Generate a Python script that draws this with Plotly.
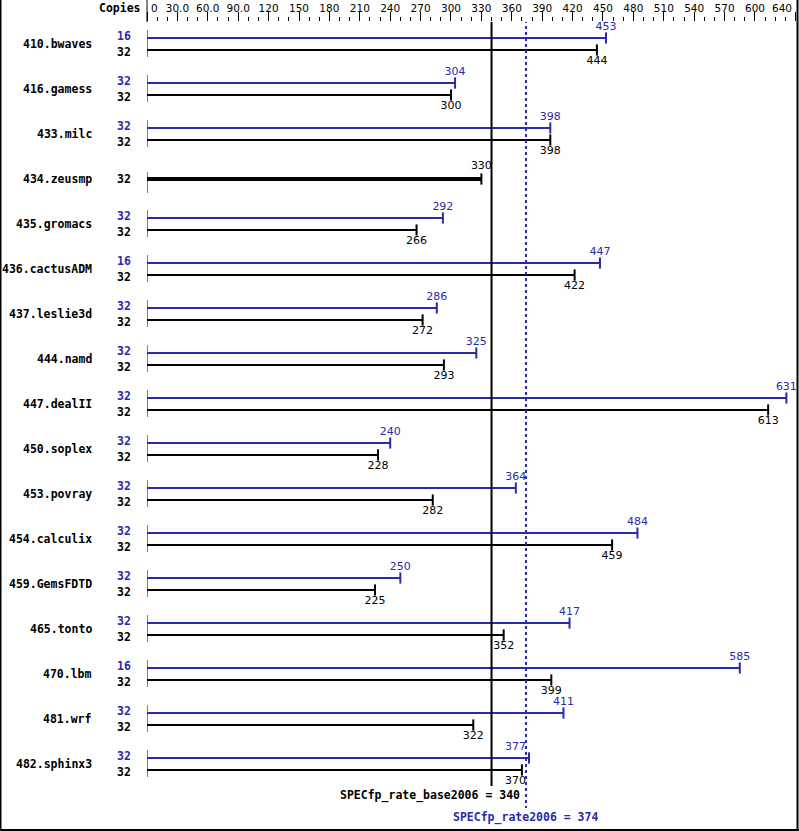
import plotly.graph_objects as go

# ---------------- data ----------------
benchmarks = ["410.bwaves", "416.gamess", "433.milc", "434.zeusmp", "435.gromacs",
              "436.cactusADM", "437.leslie3d", "444.namd", "447.dealII", "450.soplex",
              "453.povray", "454.calculix", "459.GemsFDTD", "465.tonto", "470.lbm",
              "481.wrf", "482.sphinx3"]
base_copies = [32, 32, 32, 32, 32, 32, 32, 32, 32, 32, 32, 32, 32, 32, 32, 32, 32]
peak_copies = [16, 32, 32, None, 32, 16, 32, 32, 32, 32, 32, 32, 32, 32, 16, 32, 32]
base_ratio = [444, 300, 398, 330, 266, 422, 272, 293, 613, 228, 282, 459, 225, 352, 399, 322, 370]
peak_ratio = [453, 304, 398, None, 292, 447, 286, 325, 631, 240, 364, 484, 250, 417, 585, 411, 377]
base_mean = 340
peak_mean = 374
base_mean_label = "SPECfp_rate_base2006 = 340"
peak_mean_label = "SPECfp_rate2006 = 374"
tick_vals = [0, 30, 60, 90, 120, 150, 180, 210, 240, 270, 300, 330, 360, 390, 420,
             450, 480, 510, 540, 570, 600, 640]
tick_text = ["0", "30.0", "60.0", "90.0", "120", "150", "180", "210", "240", "270", "300",
             "330", "360", "390", "420", "450", "480", "510", "540", "570", "600", "640"]

# ---------------- layout constants ----------------
W, H = 799, 831
ML, MR, MT, MB = 147, 2, 22, 2
PW = W - ML - MR
PH = H - MT - MB
PX_PER_UNIT = 1.0133
XMAX = PW / PX_PER_UNIT
ROW0, ROW_STEP, OFF = 44, 45, 6
BLUE = "#2a2aaa"
BLACK = "#000000"
MONO = "DejaVu Sans Mono"
SANS = "DejaVu Sans"


def py(p):  # pixel y -> paper y
    return 1 - (p - MT) / PH


def px(p):  # pixel x -> paper x
    return (p - ML) / PW


def label_place(v):
    # labels that would sit on the dotted peak-mean line are pushed to its left
    if abs(v - peak_mean) < 10:
        return peak_mean, "middle left"
    return v, "middle center"


fig = go.Figure()

pk_x, pk_y, bs_x, bs_y, single_x, single_y = [], [], [], [], [], []
start_x, start_y = [], []
pk_cap_x, pk_cap_y, bs_cap_x, bs_cap_y = [], [], [], []
pk_lab_x, pk_lab_y, pk_lab_t, pk_lab_p = [], [], [], []
bs_lab_x, bs_lab_y, bs_lab_t, bs_lab_p = [], [], [], []
annotations = []

for i, name in enumerate(benchmarks):
    c = ROW0 + ROW_STEP * i
    annotations.append(dict(x=0, y=c, xref="x", yref="y", text="<b>%s</b>" % name,
                            xanchor="right", yanchor="middle", xshift=-53, showarrow=False,
                            font=dict(family=MONO, size=11.5, color=BLACK)))
    if peak_ratio[i] is not None:
        yp, yb = c - OFF, c + OFF
        pk_x += [0, peak_ratio[i], None]
        pk_y += [yp, yp, None]
        bs_x += [0, base_ratio[i], None]
        bs_y += [yb, yb, None]
        pk_cap_x.append(peak_ratio[i]); pk_cap_y.append(yp)
        bs_cap_x.append(base_ratio[i]); bs_cap_y.append(yb)
        lx, lp = label_place(peak_ratio[i])
        pk_lab_x.append(lx); pk_lab_y.append(yp - 11); pk_lab_t.append(str(peak_ratio[i])); pk_lab_p.append(lp)
        lx, lp = label_place(base_ratio[i])
        bs_lab_x.append(lx); bs_lab_y.append(yb + 11); bs_lab_t.append(str(base_ratio[i])); bs_lab_p.append(lp)
        start_x += [0, 0, None]
        start_y += [c - 14, c + 13, None]
        annotations.append(dict(x=0, y=yp - 2, xref="x", yref="y", text="<b>%d</b>" % peak_copies[i],
                                xanchor="right", yanchor="middle", xshift=-14, showarrow=False,
                                font=dict(family=MONO, size=11.5, color=BLUE)))
        annotations.append(dict(x=0, y=yb + 2, xref="x", yref="y", text="<b>%d</b>" % base_copies[i],
                                xanchor="right", yanchor="middle", xshift=-14, showarrow=False,
                                font=dict(family=MONO, size=11.5, color=BLACK)))
    else:
        single_x += [0, base_ratio[i], None]
        single_y += [c, c, None]
        bs_cap_x.append(base_ratio[i]); bs_cap_y.append(c)
        lx, lp = label_place(base_ratio[i])
        bs_lab_x.append(lx); bs_lab_y.append(c - 13); bs_lab_t.append(str(base_ratio[i])); bs_lab_p.append(lp)
        start_x += [0, 0, None]
        start_y += [c - 7, c + 14, None]
        annotations.append(dict(x=0, y=c, xref="x", yref="y", text="<b>%d</b>" % base_copies[i],
                                xanchor="right", yanchor="middle", xshift=-14, showarrow=False,
                                font=dict(family=MONO, size=11.5, color=BLACK)))

fig.add_trace(go.Scatter(x=start_x, y=start_y, mode="lines", line=dict(color=BLACK, width=1),
                         hoverinfo="skip", cliponaxis=False))
fig.add_trace(go.Scatter(x=pk_x, y=pk_y, mode="lines", line=dict(color=BLUE, width=2), name="peak"))
fig.add_trace(go.Scatter(x=bs_x, y=bs_y, mode="lines", line=dict(color=BLACK, width=2), name="base"))
fig.add_trace(go.Scatter(x=single_x, y=single_y, mode="lines", line=dict(color=BLACK, width=4), name="base"))
fig.add_trace(go.Scatter(x=pk_cap_x, y=pk_cap_y, mode="markers", cliponaxis=False,
                         marker=dict(symbol="line-ns", size=8, line=dict(color=BLUE, width=2))))
fig.add_trace(go.Scatter(x=bs_cap_x, y=bs_cap_y, mode="markers", cliponaxis=False,
                         marker=dict(symbol="line-ns", size=8, line=dict(color=BLACK, width=2))))
fig.add_trace(go.Scatter(x=pk_lab_x, y=pk_lab_y, text=pk_lab_t, mode="text", cliponaxis=False,
                         textposition=pk_lab_p, textfont=dict(family=SANS, size=11, color=BLUE)))
fig.add_trace(go.Scatter(x=bs_lab_x, y=bs_lab_y, text=bs_lab_t, mode="text", cliponaxis=False,
                         textposition=bs_lab_p, textfont=dict(family=SANS, size=11, color=BLACK)))

shapes = [
    # mean lines
    dict(type="line", xref="x", yref="y", x0=base_mean, x1=base_mean, y0=20, y1=786,
         line=dict(color=BLACK, width=2)),
    dict(type="line", xref="x", yref="y", x0=peak_mean, x1=peak_mean, y0=20, y1=808,
         line=dict(color=BLUE, width=2, dash="dot")),
    # header separator
    dict(type="line", xref="paper", yref="paper", x0=0, x1=0, y0=py(22), y1=py(0),
         line=dict(color=BLACK, width=1)),
    # frame: left, right, bottom
    dict(type="line", xref="paper", yref="paper", x0=px(0.5), x1=px(0.5), y0=py(0), y1=py(831),
         line=dict(color=BLACK, width=2)),
    dict(type="line", xref="paper", yref="paper", x0=px(797.5), x1=px(797.5), y0=py(0), y1=py(831),
         line=dict(color=BLACK, width=2)),
    dict(type="line", xref="paper", yref="paper", x0=px(0), x1=px(799), y0=py(830), y1=py(830),
         line=dict(color=BLACK, width=2)),
]

annotations += [
    dict(x=0, y=py(8), xref="paper", yref="paper", text="<b>Copies</b>", xanchor="right",
         yanchor="middle", xshift=-4, showarrow=False, font=dict(family=MONO, size=11.5, color=BLACK)),
    dict(x=peak_mean, y=795, xref="x", yref="y", text="<b>%s</b>" % base_mean_label, xanchor="right",
         yanchor="middle", xshift=-4, showarrow=False, font=dict(family=MONO, size=11.5, color=BLACK)),
    dict(x=peak_mean, y=817, xref="x", yref="y", text="<b>%s</b>" % peak_mean_label, xanchor="center",
         yanchor="middle", showarrow=False, font=dict(family=MONO, size=11.5, color=BLUE)),
    # first / last tick labels aligned inside the frame
    dict(x=tick_vals[0], y=py(8), xref="x", yref="paper", text=tick_text[0], xanchor="left",
         yanchor="middle", xshift=2, showarrow=False, font=dict(family=SANS, size=10.5, color=BLACK)),
    dict(x=tick_vals[-1], y=py(8), xref="x", yref="paper", text=tick_text[-1], xanchor="right",
         yanchor="middle", xshift=-2, showarrow=False, font=dict(family=SANS, size=10.5, color=BLACK)),
]

shown_text = [""] + tick_text[1:-1] + [""]

fig.update_layout(
    width=W, height=H, margin=dict(l=ML, r=MR, t=MT, b=MB, autoexpand=False),
    paper_bgcolor="white", plot_bgcolor="white", showlegend=False,
    xaxis=dict(range=[0, XMAX], side="top", showgrid=False, zeroline=False, showline=False,
               tickmode="array", tickvals=tick_vals, ticktext=shown_text, ticks="outside",
               ticklen=9, tickwidth=1, tickcolor=BLACK, ticklabelstandoff=-4,
               tickfont=dict(family=SANS, size=10.5, color=BLACK),
               minor=dict(tickmode="linear", tick0=0, dtick=10, ticks="outside", ticklen=4,
                          tickwidth=1, tickcolor=BLACK, showgrid=False)),
    yaxis=dict(range=[H - MB, MT], visible=False, showgrid=False, zeroline=False),
    shapes=shapes, annotations=annotations,
)

fig.write_html("out.html", config={"displayModeBar": False},
               post_script="document.body.style.margin='0';document.body.style.overflow='hidden';")
